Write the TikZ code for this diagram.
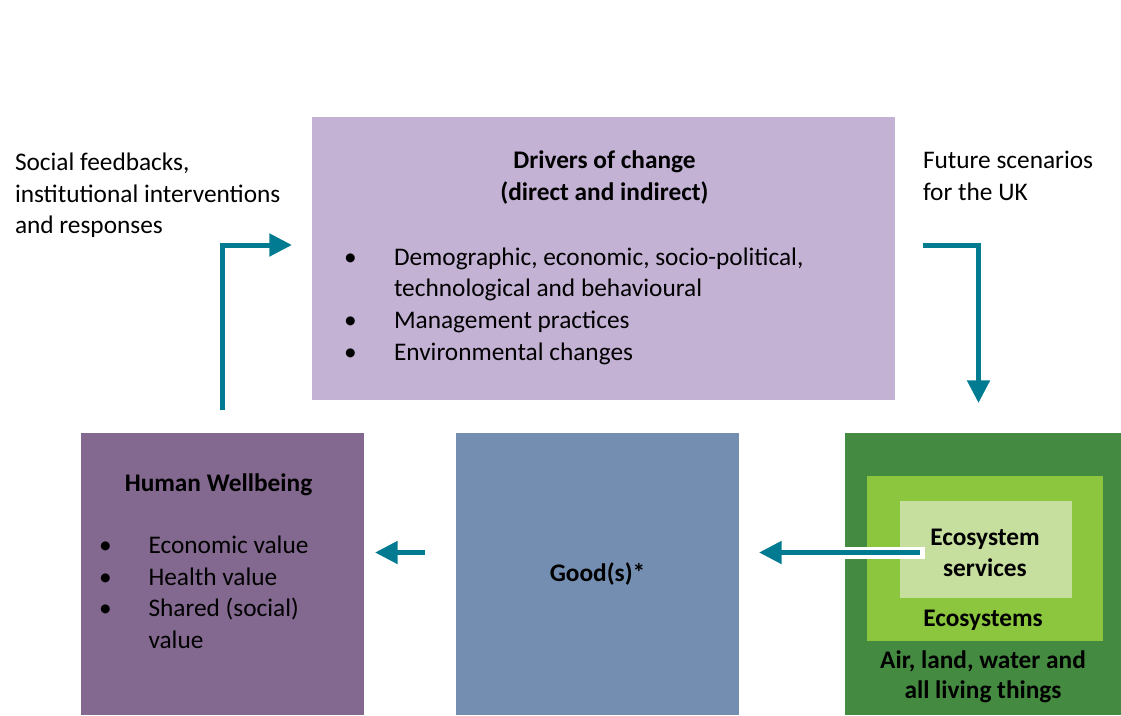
\documentclass[tikz,border=0pt]{standalone}
\usepackage{fontspec}
\setmainfont{Carlito}
\usetikzlibrary{arrows.meta}
\definecolor{drvcol}{HTML}{C4B2D5}
\definecolor{humcol}{HTML}{83688F}
\definecolor{goodcol}{HTML}{748EB1}
\definecolor{ecodark}{HTML}{448A40}
\definecolor{ecomid}{HTML}{8CC63E}
\definecolor{ecolight}{HTML}{C6DF9F}
\definecolor{teal}{HTML}{007B91}
\tikzset{
  box/.style={draw=none, inner sep=0, outer sep=0, rectangle},
  txt/.style={inner sep=0, outer sep=0, font=\fontsize{19}{24}\selectfont},
  btxt/.style={txt, font=\fontsize{19}{24}\selectfont\bfseries},
  flow/.style={draw=teal, line width=3.75pt, -{Triangle[length=17pt,width=16.5pt]}},
}
\begin{document}
\begin{tikzpicture}[x=0.75pt,y=-0.75pt]
\useasboundingbox (0,0) rectangle (1121,715);
% boxes (sizes in pt: px*0.75)
\node[box, fill=drvcol, minimum width=437.25pt, minimum height=212.25pt] (drivers) at (603.5,258.5) {};
\node[box, fill=humcol, minimum width=212.25pt, minimum height=211.5pt] (human) at (222.5,574) {};
\node[box, fill=goodcol, minimum width=212.25pt, minimum height=211.5pt] (goods) at (597.5,574) {};
\node[box, fill=ecodark, minimum width=207pt, minimum height=211.5pt] (eco) at (983,574) {};
\node[box, fill=ecomid, minimum width=177pt, minimum height=123.75pt] (ecomid) at (985,558.5) {};
\node[box, fill=ecolight, minimum width=129pt, minimum height=72.75pt] (ecoin) at (986,549.5) {};
% texts left
\node[txt, anchor=base west] (sf1) at (15,170) {Social feedbacks,};
\node[txt, anchor=base west] (sf2) at (15,202) {institutional interventions};
\node[txt, anchor=base west] (sf3) at (15,233.5) {and responses};
\node[txt, anchor=base west] (fs1) at (923,168.5) {Future scenarios};
\node[txt, anchor=base west] (fs2) at (923,200.5) {for the UK};
% drivers
\node[btxt, anchor=base] (dt1) at (604.5,168.5) {Drivers of change};
\node[btxt, anchor=base] (dt2) at (604.5,200) {(direct and indirect)};
\node[txt, anchor=base] (db1) at (350.5,265) {\textbullet};
\node[txt, anchor=base west] (dl1) at (394,265) {Demographic, economic, socio-political,};
\node[txt, anchor=base west] (dl2) at (394,296.7) {technological and behavioural};
\node[txt, anchor=base] (db2) at (350.5,328) {\textbullet};
\node[txt, anchor=base west] (dl3) at (394,328) {Management practices};
\node[txt, anchor=base] (db3) at (350.5,360) {\textbullet};
\node[txt, anchor=base west] (dl4) at (394,360) {Environmental changes};
% human
\node[btxt, anchor=base] (ht) at (218.5,491.7) {Human Wellbeing};
\node[txt, anchor=base] (hb1) at (105.5,553.3) {\textbullet};
\node[txt, anchor=base west] (hl1) at (148.5,553.3) {Economic value};
\node[txt, anchor=base] (hb2) at (105.5,585) {\textbullet};
\node[txt, anchor=base west] (hl2) at (148.5,585) {Health value};
\node[txt, anchor=base] (hb3) at (105.5,616.7) {\textbullet};
\node[txt, anchor=base west] (hl3) at (148.5,616.7) {Shared (social)};
\node[txt, anchor=base west] (hl4) at (148.5,648.3) {value};
% goods
\node[btxt, anchor=base] (gt) at (597.5,581.7) {Good(s)*};
% eco
\node[btxt, anchor=base] (es1) at (985,545) {Ecosystem};
\node[btxt, anchor=base] (es2) at (985,576) {services};
\node[btxt, anchor=base] (es3) at (983,626.7) {Ecosystems};
\node[btxt, anchor=base] (es4) at (983,668.3) {Air, land, water and};
\node[btxt, anchor=base] (es5) at (983,698.3) {all living things};
% arrow coordinates
\coordinate (lstart) at (222.5,410);
\coordinate (lcorner) at (222.5,245);
\coordinate (lend) at (292,245);
\coordinate (rstart) at (923,245);
\coordinate (rcorner) at (978.5,245);
\coordinate (rend) at (978.5,403);
\coordinate (mstart) at (425,552.5);
\coordinate (mend) at (375,552.5);
\coordinate (estart) at (920,552.5);
\coordinate (eend) at (759,552.5);
\coordinate (ewhite) at (925,552.5);
\coordinate (eedge) at (845,552.5);
% arrows
\draw[flow] (lstart) -- (lcorner) -- (lend);
\draw[flow] (rstart) -- (rcorner) -- (rend);
\draw[flow] (mstart) -- (mend);
\draw[white, line width=9pt] (eedge) -- (ewhite);
\draw[flow] (estart) -- (eend);
\end{tikzpicture}
\end{document}
